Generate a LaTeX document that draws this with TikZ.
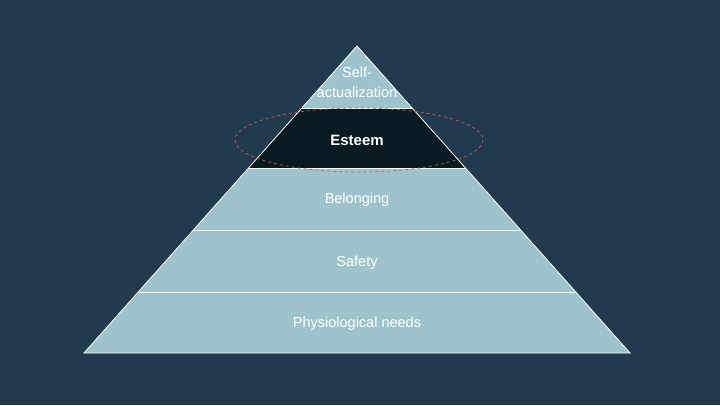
\documentclass[tikz,border=0pt]{standalone}
\usepackage{fontspec}
\setmainfont{Liberation Sans}
\definecolor{bg}{HTML}{213A4E}
\definecolor{lay}{HTML}{9DC3CC}
\definecolor{dark}{HTML}{081A22}
\definecolor{ell}{HTML}{C8585A}
\begin{document}
\begin{tikzpicture}[x=1pt,y=-1pt,
  lbl/.style={text=white,font=\fontsize{14.5}{16}\selectfont,align=center}]
\useasboundingbox (0,0) rectangle (720,405);
\fill[bg] (0,0) rectangle (720,405);
\fill[lay] (357,46) -- (630,353) -- (84,353) -- cycle;
\fill[dark] (301.9,108) -- (412.1,108) -- (465.5,168) -- (248.5,168) -- cycle;
\draw[white,line width=0.8pt] (357,46) -- (630,353) -- (84,353) -- cycle;
\foreach \y/\l/\r in {108/301.9/412.1,168/248.5/465.5,230/193.4/520.6,292/138.3/575.7}
  \draw[white,line width=1pt] (\l,\y) -- (\r,\y);
\node[lbl,font=\fontsize{14.5}{20}\selectfont] (s) at (357,82) {Self-\\actualization};
\node[lbl,font=\fontsize{15}{16}\selectfont\bfseries] (e) at (357,140) {Esteem};
\node[lbl] (b) at (357,200) {Belonging};
\node[lbl] (sf) at (357,263) {Safety};
\node[lbl] (p) at (357,324) {Physiological needs};
\draw[ell,dashed,line width=0.7pt] (359,140) ellipse [x radius=124, y radius=32];
\end{tikzpicture}
\end{document}
